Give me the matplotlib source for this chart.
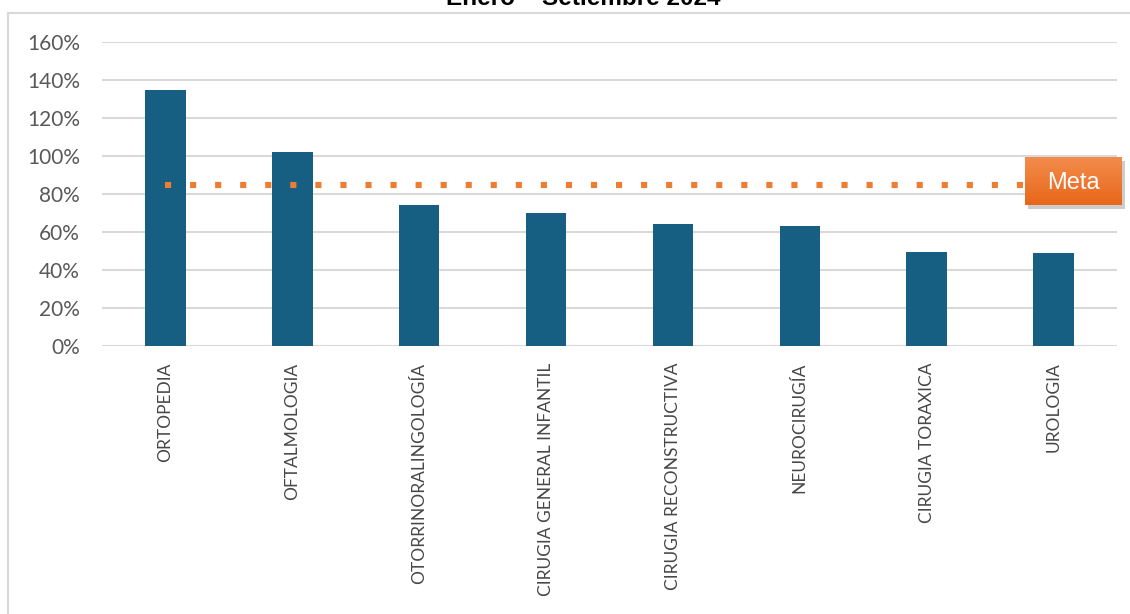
import numpy as np
import matplotlib.pyplot as plt
from matplotlib.lines import Line2D
from matplotlib.patches import Rectangle
from matplotlib.colors import LinearSegmentedColormap

plt.rcParams['font.family'] = ['Lato', 'DejaVu Sans']

servicios = ["ORTOPEDIA", "OFTALMOLOGIA", "OTORRINORALINGOLOGÍA", "CIRUGIA GENERAL INFANTIL",
             "CIRUGIA RECONSTRUCTIVA", "NEUROCIRUGÍA", "CIRUGIA TORAXICA", "UROLOGIA"]
cumplimiento = [135, 102, 74, 70, 64, 63, 49.5, 49]
meta = 85
y_ticks = [0, 20, 40, 60, 80, 100, 120, 140, 160]

W, H = 1130, 614
fig = plt.figure(figsize=(W / 100, H / 100), dpi=100)
ax = fig.add_axes([102 / W, (H - 346) / H, 1015 / W, 304 / H])
ax.patch.set_alpha(0)

x = np.arange(len(servicios))
ax.bar(x, cumplimiento, width=0.32, color="#175f82", zorder=2)
ax.plot([x[0], x[-1]], [meta, meta], color="#ed7d31", lw=4.4,
        linestyle=(0, (1, 3.1)), dash_capstyle="butt", zorder=3)

ax.set_xlim(-0.5, len(servicios) - 0.5)
ax.set_ylim(0, 160)
ax.set_yticks(y_ticks)
ax.set_yticklabels([f"{v}%" for v in y_ticks])
ax.set_xticks(x)
ax.set_xticklabels(servicios, rotation=90, va="top", ha="center")
ax.grid(axis="y", color="#d9d9d9", lw=1.5, zorder=0)
ax.set_axisbelow(True)
for s in ax.spines.values():
    s.set_visible(False)
ax.tick_params(axis="y", length=0, pad=16, labelsize=15, labelcolor="#595959")
ax.tick_params(axis="x", length=0, pad=12, labelsize=12.5, labelcolor="#474747")

# chart frame
fig.add_artist(Line2D([8 / W, 8 / W], [0, 1 - 13 / H], color="#d9d9d9", lw=1.5))
fig.add_artist(Line2D([8 / W, 1], [1 - 13 / H, 1 - 13 / H], color="#d9d9d9", lw=1.5))

fig.text(583 / W, 1 - 5 / H, "Enero – Setiembre 2024", ha="center", va="baseline",
         fontsize=17.5, fontweight="bold", family="Liberation Sans", color="black")

# "Meta" callout box with shadow and vertical gradient
bx, by, bw, bh = 1025, 157, 97, 48
shadow = Rectangle(((bx + 3) / W, 1 - (by + bh + 4) / H), bw / W, bh / H,
                   transform=fig.transFigure, facecolor="#000000", alpha=0.2,
                   edgecolor="none", zorder=1.5)
fig.add_artist(shadow)
bax = fig.add_axes([bx / W, 1 - (by + bh) / H, bw / W, bh / H], zorder=2)
grad = np.linspace(0, 1, 64).reshape(-1, 1)
cmap = LinearSegmentedColormap.from_list("naranja", ["#f38c4c", "#e8671a"])
bax.imshow(grad, aspect="auto", cmap=cmap, extent=[0, 1, 0, 1], origin="upper")
bax.text(0.5, 0.46, "Meta", ha="center", va="center", color="white", fontsize=17,
         family=["Liberation Sans"], transform=bax.transAxes)
bax.set_axis_off()

fig.savefig("out.png", dpi=100)
